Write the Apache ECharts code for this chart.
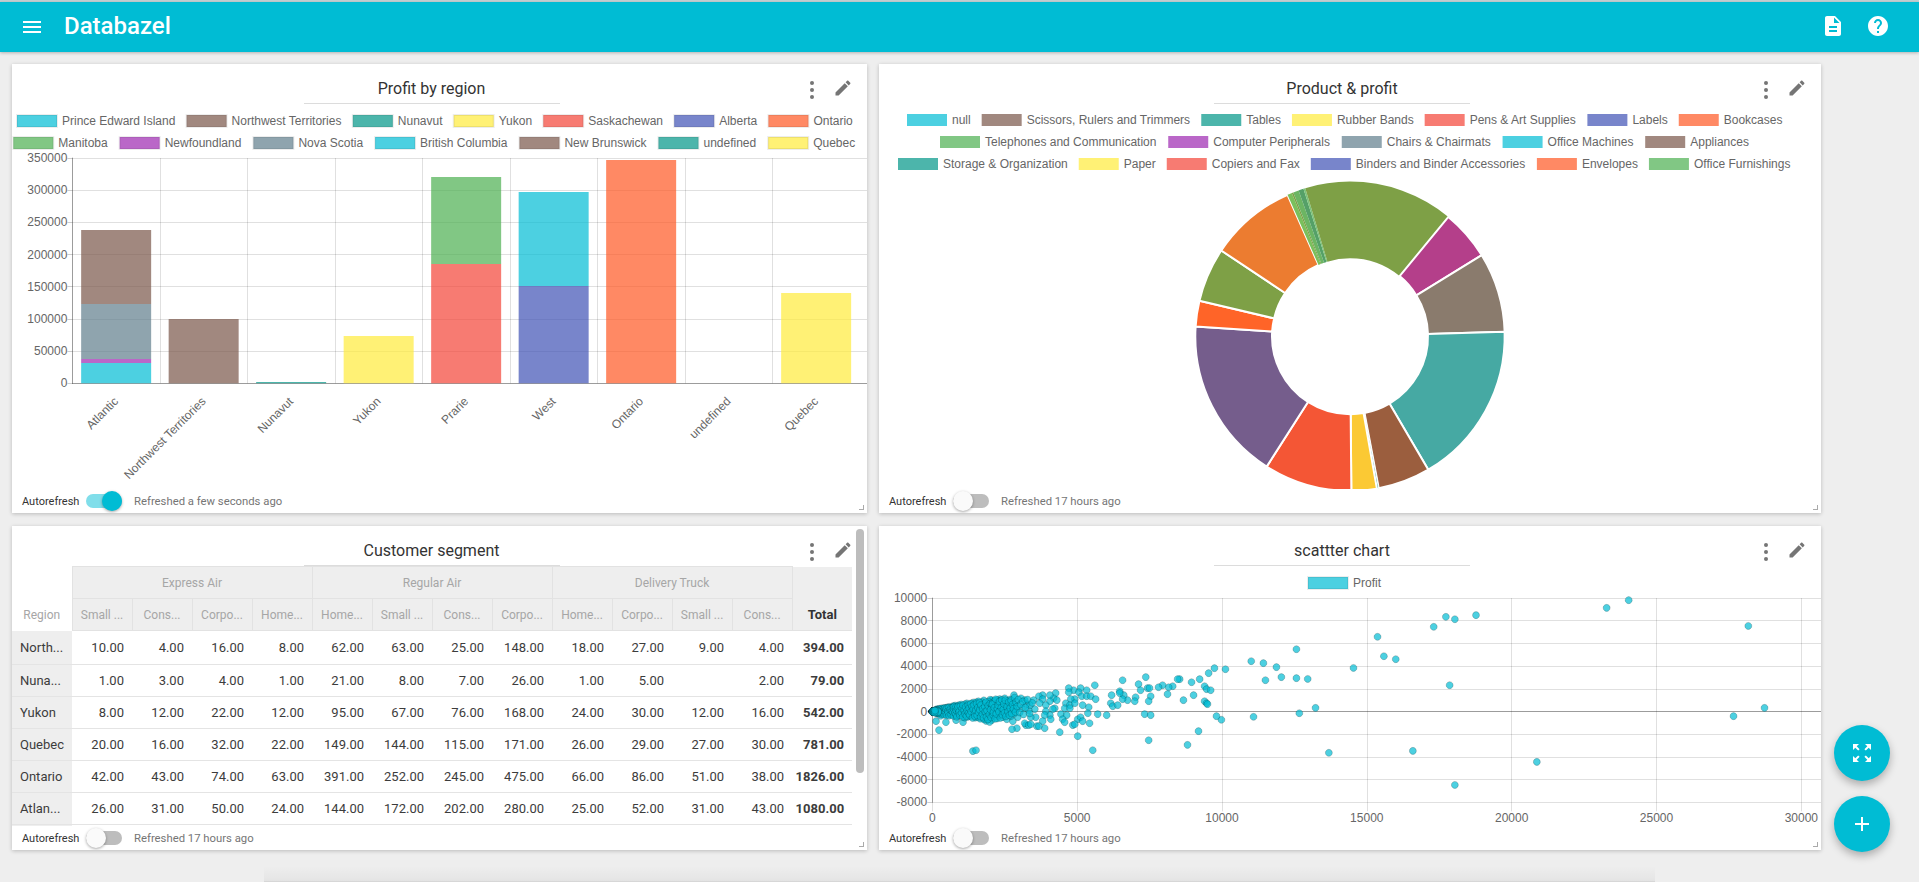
<!DOCTYPE html>
<html><head><meta charset="utf-8"><title>Databazel</title>
<script src="https://cdn.jsdelivr.net/npm/echarts@6/dist/echarts.min.js"></script>
<style>
html,body{margin:0;padding:0;width:1919px;height:882px;overflow:hidden;background:#eeeeee;font-family:Roboto,sans-serif;}
.bar{position:absolute;left:0;top:2px;width:1919px;height:50px;background:#00bcd4;box-shadow:0 1px 3px rgba(0,0,0,.25);}
.topline{position:absolute;left:0;top:0;width:1919px;height:2px;background:#c4cfd2;}
.brand{position:absolute;left:64px;top:13px;color:#fff;font-size:24px;font-weight:500;line-height:26px;}
.ico{position:absolute;width:24px;height:24px;fill:#fff;}
.card{position:absolute;background:#fff;box-shadow:0 1px 4px rgba(0,0,0,.22);overflow:hidden;}
.chart{position:absolute;left:0;top:0;width:100%;height:100%;}
.title{position:absolute;top:15px;width:256px;height:24px;text-align:center;font-size:16px;line-height:20px;color:#333;border-bottom:1px solid #dcdcdc;z-index:3;}
.dots{position:absolute;top:17px;width:4px;height:14px;z-index:3;}
.dots i{display:block;width:4px;height:4px;border-radius:2px;background:#757575;margin-bottom:3px;}
.pen{position:absolute;top:14px;width:20px;height:20px;fill:#757575;z-index:3;}
.foot{position:absolute;left:0;bottom:0;width:100%;height:24px;background:#fff;z-index:2;}
.auto{position:absolute;left:10px;bottom:4px;font-size:11px;line-height:14px;color:#333;}
.fresh{position:absolute;left:122px;bottom:4px;font-size:11.3px;line-height:14px;color:#757575;}
.track{position:absolute;left:74px;bottom:5px;width:36px;height:14px;border-radius:7px;background:#bdbdbd;}
.thumb{position:absolute;top:-3px;left:0;width:20px;height:20px;border-radius:10px;background:#fafafa;box-shadow:0 1px 3px rgba(0,0,0,.35);}
.on.track{background:#80deea;}
.on .thumb{left:16px;background:#00bcd4;}
.grip{position:absolute;right:3px;bottom:3px;width:4px;height:4px;border-right:1.5px solid #aaa;border-bottom:1.5px solid #aaa;z-index:4;}
table{position:absolute;left:0;top:40px;width:840px;table-layout:fixed;border-collapse:collapse;font-size:13px;color:#3c3c3c;}
.tw{position:absolute;left:0;top:40px;width:840px;height:260px;overflow:hidden;z-index:1;}
.tw table{top:0;}
th{font-weight:400;font-size:12px;color:#a6a6a6;background:#eeeeee;height:32px;padding:0;text-align:center;border:1px solid #e2e2e2;white-space:nowrap;overflow:hidden;box-sizing:border-box;}
th.reg{background:#fff;vertical-align:bottom;padding-bottom:9px;border:none;}
th.tot{color:#333;font-weight:700;vertical-align:bottom;padding-bottom:8px;font-size:13px;border-top:none;border-right:none;}
td{height:32px;padding:0 8px 0 0;text-align:right;border-bottom:1.5px solid #e4e4e4;box-sizing:border-box;white-space:nowrap;}
tr.first td{height:34px;}
td.r{background:#eeeeee;text-align:left;padding-left:8px;padding-right:0;overflow:hidden;}
td.t{font-weight:700;}
.sb{position:absolute;left:844px;top:3px;width:8px;height:244px;border-radius:4px;background:#bdbdbd;z-index:4;}
.fab{position:absolute;left:1834px;width:56px;height:56px;border-radius:28px;background:#00bcd4;box-shadow:0 4px 8px rgba(0,0,0,.28);}
.fab svg{position:absolute;left:16px;top:16px;width:24px;height:24px;fill:#fff;}
.shade{position:absolute;left:264px;top:866px;width:1391px;height:16px;background:linear-gradient(to bottom,rgba(0,0,0,0),rgba(0,0,0,.04) 90%,rgba(0,0,0,.12));}
</style></head><body>
<div class="topline"></div>
<div class="shade"></div>
<div class="bar"></div>
<svg class="ico" style="left:20px;top:15px" viewBox="0 0 24 24"><path d="M3 18h18v-2H3v2zm0-5h18v-2H3v2zm0-7v2h18V6H3z"/></svg>
<div class="brand">Databazel</div>
<svg class="ico" style="left:1821px;top:14px" viewBox="0 0 24 24"><path d="M14 2H6c-1.1 0-1.99.9-1.99 2L4 20c0 1.1.89 2 1.99 2H18c1.1 0 2-.9 2-2V8l-6-6zm2 16H8v-2h8v2zm0-4H8v-2h8v2zm-3-5V3.5L18.5 9H13z"/></svg>
<svg class="ico" style="left:1866px;top:14px" viewBox="0 0 24 24"><path d="M12 2C6.48 2 2 6.48 2 12s4.48 10 10 10 10-4.48 10-10S17.52 2 12 2zm1 17h-2v-2h2v2zm2.07-7.75l-.9.92C13.45 12.9 13 13.5 13 15h-2v-.5c0-1.1.45-2.1 1.17-2.83l1.24-1.26c.37-.36.59-.86.59-1.41 0-1.1-.9-2-2-2s-2 .9-2 2H8c0-2.21 1.79-4 4-4s4 1.79 4 4c0 .88-.36 1.68-.93 2.25z"/></svg>

<div class="card" id="c1" style="left:12px;top:64px;width:855px;height:449px"><div class="chart" id="barChart"></div></div>
<div class="card" id="c2" style="left:879px;top:64px;width:942px;height:449px"><div class="chart" id="pieChart"></div></div>
<div class="card" id="c3" style="left:12px;top:526px;width:855px;height:324px"><div class="tw" id="tw"></div><div class="sb"></div></div>
<div class="card" id="c4" style="left:879px;top:526px;width:942px;height:324px"><div class="chart" id="scatterChart"></div></div>

<div class="fab" style="top:725px"><svg viewBox="0 0 24 24"><path d="M15 3l2.3 2.3-2.89 2.87 1.42 1.42L18.7 6.7 21 9V3zM3 9l2.3-2.3 2.87 2.89 1.42-1.42L6.7 5.3 9 3H3zm6 12l-2.3-2.3 2.89-2.87-1.42-1.42L5.3 17.3 3 15v6zm12-6l-2.3 2.3-2.87-2.89-1.42 1.42 2.89 2.87L15 21h6z"/></svg></div>
<div class="fab" style="top:796px"><svg viewBox="0 0 24 24"><path d="M19 13h-6v6h-2v-6H5v-2h6V5h2v6h6v2z"/></svg></div>

<script>
// ---------- Bar chart data ----------
const regionCategories = ['Atlantic','Northwest Territories','Nunavut','Yukon','Prarie','West','Ontario','undefined','Quebec'];
const barSeriesNames = ['Prince Edward Island','Northwest Territories','Nunavut','Yukon','Saskachewan','Alberta','Ontario','Manitoba','Newfoundland','Nova Scotia','British Columbia','New Brunswick','undefined','Quebec'];
const princeEdwardValues  = [31600,0,0,0,0,0,0,0,0];
const northwestValues     = [0,100000,0,0,0,0,0,0,0];
const nunavutValues       = [0,0,2000,0,0,0,0,0,0];
const yukonValues         = [0,0,0,73500,0,0,0,0,0];
const saskachewanValues   = [0,0,0,0,185400,0,0,0,0];
const albertaValues       = [0,0,0,0,0,151200,0,0,0];
const ontarioValues       = [0,0,0,0,0,0,347000,0,0];
const manitobaValues      = [0,0,0,0,135100,0,0,0,0];
const newfoundlandValues  = [6200,0,0,0,0,0,0,0,0];
const novaScotiaValues    = [85400,0,0,0,0,0,0,0,0];
const britishColValues    = [0,0,0,0,0,146000,0,0,0];
const newBrunswickValues  = [115000,0,0,0,0,0,0,0,0];
const undefinedValues     = [0,0,0,0,0,0,0,0,0];
const quebecValues        = [0,0,0,0,0,0,0,0,140300];
const barValues = [princeEdwardValues,northwestValues,nunavutValues,yukonValues,saskachewanValues,albertaValues,ontarioValues,manitobaValues,newfoundlandValues,novaScotiaValues,britishColValues,newBrunswickValues,undefinedValues,quebecValues];
const paletteSolid = ['#00BCD4','#795548','#009688','#FFEB3B','#F44336','#3F51B5','#FF5722','#4CAF50','#9C27B0','#607D8B','#00BCD4','#795548','#009688','#FFEB3B','#F44336','#3F51B5','#FF5722','#4CAF50'];
// ---------- Pie data ----------
const productNames = ['null','Scissors, Rulers and Trimmers','Tables','Rubber Bands','Pens & Art Supplies','Labels','Bookcases','Telephones and Communication','Computer Peripherals','Chairs & Chairmats','Office Machines','Appliances','Storage & Organization','Paper','Copiers and Fax','Binders and Binder Accessories','Envelopes','Office Furnishings'];
const productProfit = [166600,79700,126100,258600,83100,2950,40100,139600,257300,40900,86000,137100,7200,2500,8900,8000,2950,70900];
const sliceColors = ['#7ea046','#b43f8a','#8a7b6d','#46a9a3','#9b5e3e','#46a9a3','#fbc934','#f45635','#755d8c','#ff6428','#7ea046','#ec7c30','#7ac05c','#7ea046','#6cb563','#55a068','#7cc37a','#7ea046'];
const sliceBorders = [0,2,2,2,2,1,2,2,2,2,2,2,0,0,0,0,0,0];
// ---------- Table data ----------
const shipModes = ['Express Air','Regular Air','Delivery Truck'];
const segmentHeads = ['Small ...','Cons...','Corpo...','Home...','Home...','Small ...','Cons...','Corpo...','Home...','Corpo...','Small ...','Cons...'];
const tableRegions = ['North...','Nuna...','Yukon','Quebec','Ontario','Atlan...'];
const orderCounts = [
 [10,4,16,8,62,63,25,148,18,27,9,4],
 [1,3,4,1,21,8,7,26,1,5,null,2],
 [8,12,22,12,95,67,76,168,24,30,12,16],
 [20,16,32,22,149,144,115,171,26,29,27,30],
 [42,43,74,63,391,252,245,475,66,86,51,38],
 [26,31,50,24,144,172,202,280,25,52,31,43]];
const orderTotals = [394,79,542,781,1826,1080];
// ---------- Scatter data: [sales, profit] ----------
const scatterFar = [[15370,6580],[14540,3840],[12960,2870],[13230,320],[13690,-3640],[17310,7460],[17730,8340],[18040,8130],[18770,8490],[15590,4870],[16000,4610],[17860,2320],[16590,-3470],[20870,-4440],[18040,-6470],[23280,9130],[24040,9810],[28170,7540],[27660,-410],[28730,320],
[11010,4435],[11430,4260],[11880,3910],[12570,5490],[12570,2940],[12050,3030],[11500,2760],[11090,-470],[12670,-150]];
const scatterMid = [[9980,-730],[9810,-410],[9190,-1730],[8810,-2940],[7470,-2530],[5540,-3410],[5020,-2170],[10120,3730],[9740,3820],[9540,3380],[9230,2850],[8950,2580],[8540,2850],[8470,2850],[8300,2230],[8160,2140],[7950,2320],[7810,2140],[9400,2230],[9470,1970],[9610,1880],[9020,1440],[8670,1000],[8120,1530],[7540,1350],[7470,910],[7430,2060],[7500,2060],[7370,3030],[7120,2410],[7190,1880],[7020,1260],[6990,910],[6740,1000],[6610,1440],[6570,1090],[6470,1790],[6470,1620],[6570,2760],[6190,1440],[6160,730],[6230,470],[6400,560],[9400,910],[9470,730],[9500,650],[7330,-230],[7540,-320],[6020,-320],[5710,-230],
[5610,2320],[5330,1880],[5120,2060],[4880,1880],[4710,2060],[4710,1700],[5060,1700],[5160,1350],[5330,1350],[5470,1350],[5640,1090],[5400,380],[5190,560],[4920,1090],[4780,1090],[4610,730],[4750,560],[4570,290],[4750,290],[4920,730],[5370,-150],[4440,-230],[4640,-320],[4500,-680],[4570,-940],[5020,-680],[5120,-500],[5190,-850],[5430,-1030],[4850,-1200],[4920,-1120],[4400,-1820]];
const scatterNear = [[4260,1620],[4190,1170],[4060,1440],[4300,1000],[4060,910],[3810,1440],[3680,1350],[3810,1090],[3500,1000],[3710,730],[3920,560],[4230,290],[4160,210],[3920,30],[4060,-320],[3880,-320],[4090,-680],[3810,-850],[3880,-1470],[3610,-1290],[3680,-1290],[3570,-500],[3400,-500],[3540,210],[3330,120],[3260,650],[3370,560],[3190,1000],[3060,1170],[2820,1440],[2500,1170],[2330,1090],[3090,290],[3230,-1200],[3190,-1030],[3330,-1200],[3400,-1120],[2920,-1470],[2750,-1560],[2950,-500],[2780,-850],[2570,-680],[2710,-410],[1400,-3490],[1510,-3410],[230,-1640],[470,-940],[130,-850],[1060,-940],[820,-760],
[2050,1000],[2220,1000],[2680,1060],[2790,700],[2680,560],[2500,700],[2330,700],[2160,560],[2050,260],[2220,120],[2390,120],[2560,260],[2730,410],[2160,-470],[2050,-760],[1990,-180]];
const scatterDense = [[1990,1040],[1950,860],[1900,640],[1960,420],[1880,220],[1990,-50],[1910,-330],[1950,-620],[1860,-830],[1980,-930],[1780,980],[1720,830],[1800,700],[1690,510],[1760,330],[1700,100],[1790,-120],[1710,-400],[1780,-700],[1650,-630],[1590,900],[1510,820],[1540,620],[1620,450],[1490,280],[1560,60],[1610,-260],[1480,-540],[1560,-500],[1420,800],[1350,730],[1300,540],[1400,380],[1280,160],[1360,-90],[1430,-320],[1300,-430],[1210,-490],[1190,720],[1120,640],[1220,500],[1080,420],[1160,230],[1230,40],[1090,-100],[1170,-260],[1040,-370],[1120,-540],[1000,620],[920,560],[860,470],[980,340],[900,200],[1020,60],[850,-70],[940,-180],[880,-400],[1000,-300],[790,530],[720,480],[660,370],[770,280],[690,130],[800,10],[640,-90],[720,-200],[760,-340],[590,400],[520,370],[460,290],[560,200],[480,90],[600,-20],[510,-130],[540,-260],[440,-210],[400,310],[330,260],[270,190],[380,120],[300,40],[420,-60],[250,-90],[340,-180],[290,-380]];
const scatterBand = [[120,150],[150,-160],[170,210],[190,-60],[210,70],[230,-190],[240,240],[260,130],[280,-120],[290,20],[310,270],[320,-230],[340,150],[350,60],[370,-90],[390,210],[410,-280],[420,100],[430,300],
[450,-50],[470,210],[490,-320],[510,290],[530,20],[550,-100],[570,330],[580,-370],[610,140],[630,260],[650,-290],[670,60],[700,330],[710,-60],[730,-390],[740,190],[750,420],[780,-120],[810,360],[820,-280],[830,90],[850,-470],[870,300],[890,430],[910,-110],[930,30],[950,-340],
[970,460],[1010,-120],[1030,250],[1050,-480],[1060,540],[1100,130],[1130,-210],[1150,400],[1180,-400],[1200,70],[1240,590],[1250,-150],[1270,300],[1290,-300],[1320,660],[1340,-20],[1370,440],[1390,-560],[1410,190],[1440,580],[1460,-180],[1470,-420],[1500,90],
[1530,700],[1550,-340],[1570,350],[1600,-80],[1630,760],[1640,150],[1670,-470],[1680,560],[1730,-230],[1740,240],[1770,-560],[1810,440],[1830,-20],[1850,820],[1870,-480],[1890,90],[1920,-700],[1930,500],[1970,-260],[2000,700],
[2030,-520],[2060,460],[2090,810],[2100,-300],[2120,130],[2150,920],[2180,-120],[2200,340],[2240,-620],[2260,780],[2290,-380],[2310,450],[2340,940],[2370,-150],[2410,560],[2430,-500],[2460,870],[2480,60],[2530,-280],[2550,480],[2600,930],[2620,-120],[2650,180],[2700,760],[2760,90],[2820,-200],[2860,570],[2900,200]];
const scatterFill = [[2010,150],[2070,640],[2110,-90],[2140,330],[2170,-640],[2190,1080],[2210,-210],[2250,240],[2270,560],[2300,-30],[2320,870],[2350,-560],[2380,320],[2400,1020],[2420,-290],[2450,180],[2470,660],[2490,-130],[2520,1000],[2540,-430],[2580,380],[2610,-20],[2640,820],[2660,-330],[2690,300],[2720,980],[2740,-180],[2770,620],[2800,240],[2840,1230],[2870,-40],[2890,830],[2930,430],[2970,1050],[3020,-90],[3050,610],[3120,880],[3150,-260],[3210,340],[3290,1050],[3360,-170],[3450,760]];
const scatterOrigin = [[220,170],[160,120],[110,90],[70,50],[40,30],[20,10],[10,5],[0,0],[5,-5],[15,-15],[30,-20],[50,-40],[80,-60],[120,-90],[180,-130],[60,10],[90,30],[130,40],[25,15],[35,-5],[45,10],[3,2],[8,-3],[12,6],[18,-8],[28,4],[2,1],[4,-1],[6,3],[9,1],[11,-2],[14,4],[16,-4],[22,2],[26,-6],[33,8],[38,-10],[42,14],[48,-14],[55,6],[62,-18],[68,16],[75,-8],[85,12],[95,-22],[105,20],[1,0],[7,0],[13,1],[19,3],[24,-3],[31,5],[36,-7],[44,-2],[52,3],[58,-9],[66,7],[72,-12],[78,9],[88,-5],
[30,30],[40,-30],[55,40],[60,-50],[65,25],[70,-35],[82,55],[90,-70],[100,40],[100,-40],[110,-20],[115,60],[125,-55],[135,85],[140,-100],[145,10],[155,-70],[165,50],[175,-20],[185,90],[195,-100],[200,20],[210,-40],[20,-25],[10,20],[15,30],[5,15],[0,-10],[0,12],[2,-20],[8,25],[12,-30],[22,35],[28,-40],[35,45],[44,-55],[50,60],[74,70],[88,-90],[96,80]];
const scatterPoints = [].concat(scatterFar,scatterMid,scatterNear,scatterDense,scatterBand,scatterFill,scatterOrigin);

// ---------- Card chrome ----------
const penPath = 'M3 17.25V21h3.75L17.81 9.94l-3.75-3.75L3 17.25zM20.71 7.04c.39-.39.39-1.02 0-1.41l-2.34-2.34c-.39-.39-1.02-.39-1.41 0l-1.83 1.83 3.75 3.75 1.83-1.83z';
function chrome(id,title,on,fresh){
  const c=document.getElementById(id), w=c.clientWidth;
  c.insertAdjacentHTML('beforeend',
   `<div class="title" style="left:${(w-16-256)/2}px">${title}</div>
    <div class="dots" style="left:${w-57}px"><i></i><i></i><i></i></div>
    <svg class="pen" style="left:${w-34}px" viewBox="0 0 24 24"><path d="${penPath}"/></svg>
    <div class="foot"><div class="auto">Autorefresh</div><div class="track ${on?'on':''}"><div class="thumb"></div></div><div class="fresh">${fresh}</div></div>
    <div class="grip"></div>`);
}
chrome('c1','Profit by region',true,'Refreshed a few seconds ago');
chrome('c2','Product &amp; profit',false,'Refreshed 17 hours ago');
chrome('c3','Customer segment',false,'Refreshed 17 hours ago');
chrome('c4','scattter chart',false,'Refreshed 17 hours ago');

// ---------- Table ----------
let html='<table><colgroup>'+'<col style="width:60px">'.repeat(14)+'</colgroup><tr><th class="reg" rowspan="2">Region</th>';
shipModes.forEach(m=>html+=`<th colspan="4">${m}</th>`);
html+='<th class="tot" rowspan="2">Total</th></tr><tr>';
segmentHeads.forEach(h=>html+=`<th>${h}</th>`);
html+='</tr>';
tableRegions.forEach((r,i)=>{
  html+=`<tr class="${i==0?'first':''}"><td class="r">${r}</td>`;
  orderCounts[i].forEach(v=>html+=`<td>${v==null?'':v.toFixed(2)}</td>`);
  html+=`<td class="t">${orderTotals[i].toFixed(2)}</td></tr>`;
});
html+='<tr><td class="r"></td>'+'<td></td>'.repeat(13)+'</tr></table>';
document.getElementById('tw').innerHTML=html;

// ---------- Shared styles ----------
const chartFont='"Liberation Sans",Helvetica,Arial,sans-serif';
const gridLine={lineStyle:{color:'rgba(0,0,0,0.12)',width:1}};
const axisDark='rgba(0,0,0,0.3)';
const plain=v=>String(v);
const alpha=(hex,a)=>{const n=parseInt(hex.slice(1),16);return `rgba(${n>>16},${(n>>8)&255},${n&255},${a})`;};
const legendText={color:'#666',fontSize:12,fontFamily:chartFont};
function legendRow(names,left,top,colorOf,border,gap,textGap){
  return {left,top,padding:0,itemWidth:40,itemHeight:12,itemGap:gap,itemTextGap:textGap,icon:'rect',selectedMode:false,textStyle:legendText,
    data:names.map(n=>({name:n,icon:'rect',itemStyle:{color:colorOf(n),borderColor:border?'rgba(0,0,0,0.07)':'transparent',borderWidth:border?2:0,opacity:1}}))};
}
const opts={renderer:'svg'};

// ---------- Bar ----------
const bar=echarts.init(document.getElementById('barChart'),null,opts);
const barColor=n=>alpha(paletteSolid[barSeriesNames.indexOf(n)],0.7);
bar.setOption({
  animation:false,
  legend:[legendRow(barSeriesNames.slice(0,7),4,50,barColor,true,10.2,6),legendRow(barSeriesNames.slice(7),0.3,72,barColor,true,11,6)],
  grid:[{left:60.4,right:7.1,top:94,bottom:129.7},{left:60.4,right:0,top:94,bottom:129.7}],
  xAxis:[
   {gridIndex:1,type:'category',data:[''],axisTick:{show:false},axisLabel:{show:false},axisLine:{lineStyle:{color:axisDark}},splitLine:{show:false}},
   {gridIndex:0,type:'category',data:regionCategories,axisLine:{show:false},axisTick:{length:10,alignWithLabel:false,interval:0,lineStyle:{color:'rgba(0,0,0,0.12)'}},splitLine:{show:true,interval:0,showMaxLine:false,...gridLine},
    axisLabel:{interval:0,rotate:45,margin:16,color:'#666',fontSize:12,fontFamily:chartFont}}],
  yAxis:[
   {gridIndex:1,type:'value',min:0,max:350000,interval:50000,axisLabel:{show:false},axisTick:{show:false},axisLine:{show:false},splitLine:{show:true,...gridLine}},
   {gridIndex:0,type:'value',min:0,max:350000,interval:50000,axisLine:{show:true,lineStyle:{color:axisDark}},axisTick:{show:true,length:5,lineStyle:{color:'rgba(0,0,0,0.2)'}},splitLine:{show:false},axisLabel:{margin:5,formatter:plain,color:'#666',fontSize:12,fontFamily:chartFont}}],
  series:barSeriesNames.map((n,i)=>({name:n,type:'bar',stack:'profit',xAxisIndex:1,yAxisIndex:1,barWidth:'80%',data:barValues[i],itemStyle:{color:alpha(paletteSolid[i],0.7)}}))
});

// ---------- Pie ----------
const pie=echarts.init(document.getElementById('pieChart'),null,opts);
const pieColor=n=>alpha(paletteSolid[productNames.indexOf(n)],0.7);
pie.setOption({
  animation:false,
  legend:[legendRow(productNames.slice(0,7),28,50,pieColor,false,11,7),legendRow(productNames.slice(7,12),61,72,pieColor,false,11.8,7),legendRow(productNames.slice(12),19,94,pieColor,false,11,7)],
  series:[{type:'pie',center:[471,272.3],radius:[78,154.7],startAngle:90,clockwise:true,label:{show:false},labelLine:{show:false},silent:true,
    data:productNames.map((n,i)=>({name:n,value:productProfit[i],itemStyle:{color:sliceColors[i],borderColor:'#fff',borderWidth:sliceBorders[i]}}))}]
});

// ---------- Scatter ----------
const sc=echarts.init(document.getElementById('scatterChart'),null,opts);
sc.setOption({
  animation:false,
  legend:[legendRow(['Profit'],428,50,()=>alpha('#00BCD4',0.7),true,10,6)],
  grid:[{left:53.3,right:19.1,top:72,bottom:47.7},{left:53.3,right:0,top:72,bottom:47.7}],
  xAxis:[
   {gridIndex:1,type:'value',min:0,max:1,axisLabel:{show:false},axisTick:{show:false},splitLine:{show:false},axisLine:{onZero:true,lineStyle:{color:axisDark}}},
   {gridIndex:0,type:'value',min:0,max:30000,interval:5000,axisLine:{show:false,onZero:false},axisTick:{show:true,length:9,lineStyle:{color:'rgba(0,0,0,0.12)'}},splitLine:{show:true,...gridLine},axisLabel:{margin:9.5,formatter:plain,color:'#666',fontSize:12,fontFamily:chartFont}}],
  yAxis:[
   {gridIndex:1,type:'value',min:-8000,max:10000,interval:2000,axisLabel:{show:false},axisTick:{show:false},axisLine:{show:false},splitLine:{show:true,...gridLine}},
   {gridIndex:0,type:'value',min:-8000,max:10000,interval:2000,axisLine:{show:true,onZero:false,lineStyle:{color:axisDark}},axisTick:{show:true,length:5,lineStyle:{color:'rgba(0,0,0,0.2)'}},splitLine:{show:false},axisLabel:{margin:5,formatter:plain,color:'#666',fontSize:12,fontFamily:chartFont}}],
  series:[{name:'Profit',type:'scatter',xAxisIndex:1,yAxisIndex:1,symbolSize:7,data:scatterPoints,itemStyle:{color:alpha('#00BCD4',0.7),borderColor:'rgba(0,0,0,0.18)',borderWidth:1,opacity:1}}]
});
</script>
</body></html>
